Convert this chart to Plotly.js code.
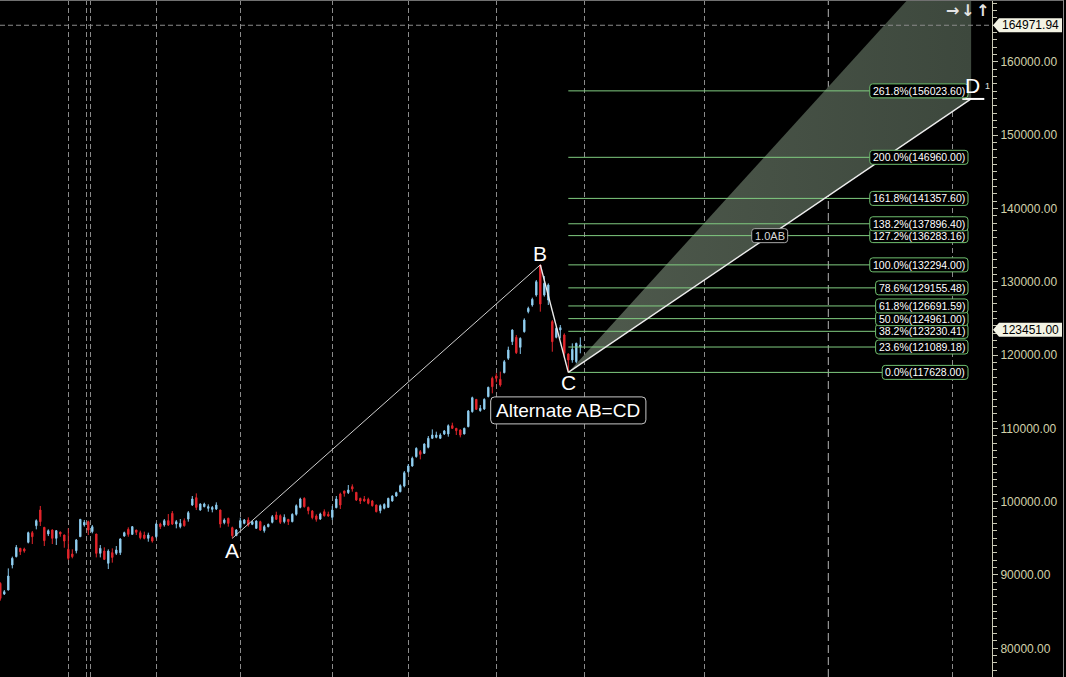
<!DOCTYPE html>
<html><head><meta charset="utf-8">
<script src="https://cdn.plot.ly/plotly-3.0.1.min.js"></script>
<style>html,body{margin:0;padding:0;background:#000;overflow:hidden}#chart{width:1066px;height:677px}</style>
</head><body><div id="chart"></div>
<script>
// ---- candle data (bar index 0..145) ----
const openP = [88860,87400,87950,91360,92500,93630,93540,94450,95770,96720,
98860,96500,95590,96130,95000,95860,95450,93500,92860,93310,
95220,96820,97270,95910,95590,92950,93270,91590,93040,92950,
93040,95310,96220,95540,96130,95770,95450,95000,95130,95220,
96950,96820,97410,98410,96950,96590,97410,97630,99540,100540,
98860,99320,99090,98950,99000,98860,97130,97720,96450,95360,
96450,97040,97500,96910,96360,97270,96040,96590,97180,98180,
98090,97270,97590,97270,98270,99220,100450,99220,98720,98040,
97630,98630,98270,97860,99180,101040,101450,101230,102040,101270,
100450,100360,100320,100090,99540,98770,99090,99220,100090,100770,
101360,102130,104090,104860,106140,106820,106590,107410,108640,108770,
108640,109230,109230,110360,110000,109770,109230,110230,112270,113950,
112410,112640,114320,116820,117140,116680,117590,119550,121820,122410,
121050,123180,125910,126820,128180,132270,128180,127500,124550,122410,
123410,122730,120140,119320,119090,121140];
const highP = [89000,87950,90900,92500,94090,93700,93720,95910,96000,97590,
99410,96550,96220,96220,96130,95900,95500,96360,93500,94910,
97600,97500,97410,96820,95600,94090,93770,93500,93630,93950,
95000,95910,96500,96680,96150,96040,95910,95770,95310,97130,
97130,97630,98310,98720,97500,97630,97720,98720,100770,101130,
99770,99860,99630,99410,99910,98900,97720,97820,96590,96270,
97820,97630,97860,97400,97450,97400,96820,97000,98180,98630,
98270,98270,97600,98410,99630,100540,100590,99320,98860,98270,
98500,98950,98630,99410,100770,101230,101500,102270,102360,101300,
100540,100770,100540,100230,99600,99630,99770,100540,100850,101360,
102360,104180,105130,106140,107410,107040,107950,108950,109860,109540,
109320,109770,110540,110770,110050,109860,110090,112500,114320,114000,
113180,114090,115680,117050,117500,117730,119320,121140,123500,122730,
122410,125000,126590,127820,130230,132294,130770,129770,124770,123860,
124090,122950,120230,121590,121680,122410];
const lowP = [86500,87270,87900,90900,92400,92720,93040,94310,94220,96220,
96680,93950,95310,94220,94090,95220,93720,92040,92270,92950,
95200,96590,95450,95680,92400,92400,92040,90810,91680,92720,
92720,95220,95220,95450,95450,94860,94860,94540,94410,95000,
96270,96590,96680,96820,96360,96360,96590,97270,99410,98860,
98770,99220,98630,98540,98860,96450,96910,96590,95000,95310,
96360,96910,96590,96800,96300,96000,95770,96500,97040,97500,
96950,97040,96820,97180,98090,99090,99180,98270,97590,97270,
97500,97950,97950,97500,99090,99000,100680,101040,101360,100090,
99680,100000,99630,99320,98540,98410,98950,99180,100000,100680,
101270,101950,103950,104770,106000,105770,106500,107270,108540,108640,
108540,109090,108860,109910,109090,108770,109180,110140,112140,112500,
112270,112500,114230,114770,116270,115680,117500,119320,121360,120140,
120140,123050,125680,126590,127960,125910,127960,126820,120450,122270,
122270,119680,117628,118950,118860,120230];
const closeP = [86810,87720,89860,92270,93770,93180,93270,95770,95220,97410,
97270,94680,96040,95000,96040,95590,94630,92270,92500,94770,
97590,97180,96130,96590,92950,93630,92130,93270,92400,93410,
94910,95770,95540,96590,95820,95090,95000,95450,94630,96950,
96590,97410,96820,96950,97270,97040,96720,98500,100360,99220,
99680,99680,99320,99220,99540,96950,97500,97040,95360,96130,
97410,97500,96820,97270,97360,96130,96590,96910,97950,97590,
97180,97860,97270,98270,99450,100360,99320,98770,97820,97590,
98320,98090,98040,98860,100360,99540,101130,101590,101730,100230,
100090,100090,99770,99450,98630,99450,99630,100450,100770,101230,
102180,103950,104860,105910,107270,106450,107860,108640,109090,109090,
109090,109640,110360,110000,109680,109090,110000,112360,114180,112590,
112730,113950,115590,115680,116820,115910,119090,120680,123410,120320,
122270,124770,126360,127590,130000,126950,129770,129550,121820,123640,
123730,120230,119320,120770,121590,121360];

// ---- pattern points ----
const patternNames = ['A','B','C'];
const patternIdx = [58, 135, 142];
const patternVal = [95000, 132294, 117628];
const dIdx = 242.7;             // projected D bar position
const cdRatios = [1.0, 1.618];  // lower / upper edge of projection

// ---- fibonacci levels ----
const fibPct = [0.0, 23.6, 38.2, 50.0, 61.8, 78.6, 100.0, 127.2, 138.2, 161.8, 200.0, 261.8];
const fibVal = [117628.00, 121089.18, 123230.41, 124961.00, 126691.59, 129155.48, 132294.00, 136283.16, 137896.40, 141357.60, 146960.00, 156023.60];

// ---- price tags / grid ----
const crossPrice = 164971.94;
const lastPrice = 123451.00;
const gridIdx = [17, 21.5, 22.5, 39, 60, 83, 102, 124.05, 146.05, 175.95];
const todayIdx = 207;
const farGridIdx = [238];

const W = 1066, H = 677, PLOT_W = 992;
const xRange = [-0.075, 247.925];
const yRange = [76087, 168415];
const pxToVal = dy => dy * (yRange[1] - yRange[0]) / H;

const FONT = 'Liberation Sans, Arial, sans-serif';
const ctx = document.createElement('canvas').getContext('2d');
function tw(t, s){ ctx.font = s + 'px "Liberation Sans"'; return ctx.measureText(t).width; }

function rrPath(x0, x1, y0, y1, r){
  return `M ${x0+r},${y0} L ${x1-r},${y0} Q ${x1},${y0} ${x1},${y0+r} L ${x1},${y1-r} Q ${x1},${y1} ${x1-r},${y1} L ${x0+r},${y1} Q ${x0},${y1} ${x0},${y1-r} L ${x0},${y0+r} Q ${x0},${y0} ${x0+r},${y0} Z`;
}
function rrShape(xa, ya, x0, x1, y0, y1, r, col){
  return {type:'path', xref:'x', yref:'y', xsizemode:'pixel', ysizemode:'pixel', xanchor:xa, yanchor:ya,
    path: rrPath(x0, x1, y0, y1, r), line:{color:col, width:1}, fillcolor:'#000', layer:'above'};
}

const A = {i:patternIdx[0], v:patternVal[0]}, B = {i:patternIdx[1], v:patternVal[1]}, C = {i:patternIdx[2], v:patternVal[2]};
const AB = B.v - A.v;
const dLow = C.v + cdRatios[0]*AB, dHigh = C.v + cdRatios[1]*AB;

const traces = [];
// projection wedge
traces.push({type:'scatter', mode:'lines', x:[C.i, dIdx, dIdx, C.i], y:[C.v, dHigh, dLow, C.v],
  fill:'toself', fillcolor:'#424d42', line:{width:0}, hoverinfo:'skip', showlegend:false,
  fillgradient:{type:'horizontal', colorscale:[[0,'#4f5a4d'],[1,'#3d483d']]}});
// candles
traces.push({type:'candlestick', x:openP.map((_,i)=>i), open:openP, high:highP, low:lowP, close:closeP,
  increasing:{line:{color:'#86c6ea', width:1}, fillcolor:'#aadcf4'},
  decreasing:{line:{color:'#e2252b', width:1}, fillcolor:'#e2252b'},
  whiskerwidth:0, hoverinfo:'skip', showlegend:false});
// fib lines
const fibRightI = (968 - 0.3) / 4;
const fx = [], fy = [];
fibVal.forEach(v => { fx.push(C.i, fibRightI, null); fy.push(v, v, null); });
traces.push({type:'scatter', mode:'lines', x:fx, y:fy, line:{color:'#80cc80', width:1}, hoverinfo:'skip', showlegend:false});
// AB, BC, CD lines
traces.push({type:'scatter', mode:'lines', x:[A.i, B.i], y:[A.v, B.v], line:{color:'#cfcfcf', width:1}, hoverinfo:'skip', showlegend:false});
traces.push({type:'scatter', mode:'lines', x:[B.i, C.i], y:[B.v, C.v], line:{color:'#ececec', width:1.4}, hoverinfo:'skip', showlegend:false});
traces.push({type:'scatter', mode:'lines', x:[C.i, dIdx], y:[C.v, dLow], line:{color:'#ececec', width:1.4}, hoverinfo:'skip', showlegend:false});
traces.push({type:'scatter', mode:'lines', x:[dIdx-2.2, dIdx+3.3], y:[dLow, dLow], line:{color:'#ffffff', width:2}, hoverinfo:'skip', showlegend:false});

const shapes = [];
const annotations = [];
// special vertical dashed line
shapes.push({type:'line', xref:'x', yref:'y', x0:todayIdx, x1:todayIdx, y0:yRange[0], y1:yRange[1], line:{color:'#b4b4b4', width:1, dash:'8px,4px'}, layer:'below'});
// crosshair
shapes.push({type:'line', xref:'x', yref:'y', x0:xRange[0], x1:xRange[1], y0:crossPrice, y1:crossPrice, line:{color:'#8a8a8a', width:1, dash:'5px,3px'}, layer:'above'});

// fib labels
fibPct.forEach((p, k) => {
  const txt = p.toFixed(1) + '%(' + fibVal[k].toFixed(2) + ')';
  const w = tw(txt, 10.5) + 6;
  shapes.push(rrShape(fibRightI, fibVal[k], -w, 0, -7, 7, 3, '#6fbf6f'));
  annotations.push({xref:'x', yref:'y', x:fibRightI, y:fibVal[k], text:txt, showarrow:false, xanchor:'center', yanchor:'middle',
    xshift:-w/2, font:{family:FONT, size:10.5, color:'#ffffff'}});
});
// 1.0AB label
{
  const txt = '1.0AB', w = tw(txt, 11) + 6, mi = (C.i + dIdx) / 2, mv = (C.v + dLow) / 2;
  shapes.push(rrShape(mi, mv, -w/2, w/2, -7, 7, 3, '#a8a8a8'));
  annotations.push({xref:'x', yref:'y', x:mi, y:mv, text:txt, showarrow:false, xanchor:'center', yanchor:'middle', font:{family:FONT, size:11, color:'#d8d8d8'}});
}
// Alternate AB=CD label
{
  const txt = 'Alternate AB=CD', w = tw(txt, 19) + 10, lv = C.v - pxToVal(38);
  shapes.push(rrShape(C.i, lv, -w/2, w/2, -13.5, 13.5, 4, '#c8c8c8'));
  annotations.push({xref:'x', yref:'y', x:C.i, y:lv, text:txt, showarrow:false, xanchor:'center', yanchor:'middle', font:{family:FONT, size:19, color:'#ffffff'}});
}
// point labels
const ptShift = [-12, 11, -10];
patternNames.forEach((n, k) => {
  annotations.push({xref:'x', yref:'y', x:patternIdx[k], y:patternVal[k], text:n, showarrow:false, xanchor:'center', yanchor:'middle',
    yshift:ptShift[k], font:{family:FONT, size:21, color:'#ffffff'}});
});
annotations.push({xref:'x', yref:'y', x:dIdx, y:dLow, text:'D', showarrow:false, xanchor:'center', yanchor:'middle', xshift:1.5, yshift:13, font:{family:FONT, size:21, color:'#ffffff'}});
annotations.push({xref:'paper', yref:'y', x:987/W, y:dLow, text:'1', showarrow:false, xanchor:'center', yanchor:'middle', yshift:13, font:{family:FONT, size:9, color:'#e0e0e0'}});

// price tags
function tag(v){
  const yc = (v - yRange[0]) / (yRange[1] - yRange[0]), h = 7 / H;
  const xt = 993 / W, xl = 999 / W, xr = 1062 / W;
  shapes.push({type:'path', xref:'paper', yref:'paper', path:`M ${xt},${yc} L ${xl},${yc+h} L ${xr},${yc+h} L ${xr},${yc-h} L ${xl},${yc-h} Z`,
    fillcolor:'#f3f3e4', line:{width:0}, layer:'above'});
  annotations.push({xref:'paper', yref:'y', x:(999+1062)/2/W, y:v, text:v.toFixed(2), showarrow:false, xanchor:'center', yanchor:'middle',
    font:{family:FONT, size:12, color:'#000000'}});
}
tag(crossPrice); tag(lastPrice);

// borders
shapes.push({type:'line', xref:'paper', yref:'paper', x0:0, x1:1063/W, y0:1-0.5/H, y1:1-0.5/H, line:{color:'#707070', width:1}});
shapes.push({type:'line', xref:'paper', yref:'paper', x0:1063.5/W, x1:1063.5/W, y0:0, y1:1, line:{color:'#8a8a8a', width:1}});

// top-right arrows
[['→',952],['↓',967],['↑',982]].forEach(([t,x]) => {
  annotations.push({xref:'paper', yref:'paper', x:x/W, y:1-10/H, text:'<b>'+t+'</b>', showarrow:false, xanchor:'center', yanchor:'middle',
    font:{family:'DejaVu Sans, sans-serif', size:16, color:'#e4e4e4'}});
});

const layout = {
  width:W, height:H, margin:{l:0, r:0, t:0, b:0},
  paper_bgcolor:'#000', plot_bgcolor:'#000', showlegend:false, boxgap:0.5,
  xaxis:{domain:[0, PLOT_W/W], range:xRange, rangeslider:{visible:false}, showticklabels:false, ticks:'',
    tickmode:'array', tickvals:gridIdx.concat(farGridIdx), showgrid:true, gridcolor:'#8a8a8a', gridwidth:1, griddash:'5px,3px',
    zeroline:false, showline:false, fixedrange:true},
  yaxis:{side:'right', range:yRange, tick0:0, dtick:10000, tickformat:'.2f', ticks:'outside', ticklen:5, tickcolor:'#c8c8b4',
    showline:true, linecolor:'#c8c8b4', linewidth:1, showgrid:false, zeroline:false, fixedrange:true,
    tickfont:{family:FONT, size:12, color:'#d2d2aa'},
    minor:{dtick:1000, ticks:'outside', ticklen:4, tickcolor:'#c8c8b4', showgrid:false}},
  shapes, annotations
};
Plotly.newPlot('chart', traces, layout, {displayModeBar:false, staticPlot:true});
</script></body></html>
